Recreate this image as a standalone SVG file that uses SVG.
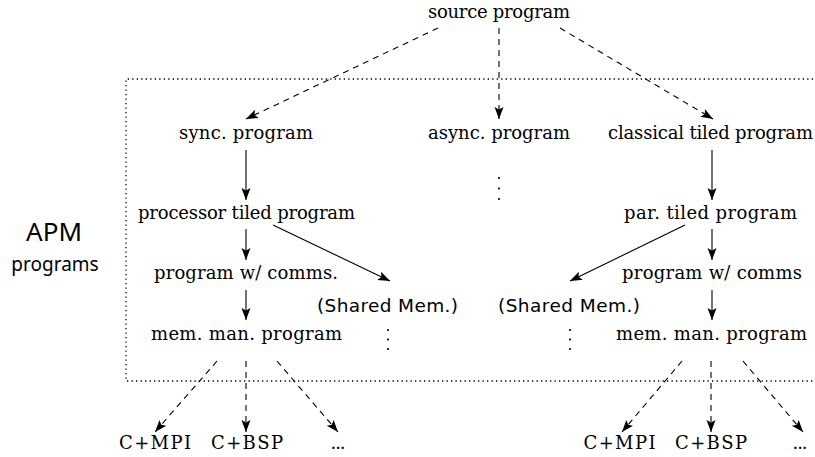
<svg xmlns="http://www.w3.org/2000/svg" width="815" height="457" viewBox="0 0 815 457">
<style>
.t{font-family:"DejaVu Serif","Liberation Serif",serif;font-size:18px;fill:#000;text-anchor:middle}
.s{font-family:"DejaVu Sans","Liberation Sans",sans-serif;font-size:18.5px;fill:#000;text-anchor:middle}
.lab{font-family:"Noto Sans","Open Sans",sans-serif;fill:#000;text-anchor:middle}
.solid{stroke:#000;stroke-width:1.1;fill:none;marker-end:url(#ah)}
.dash{stroke:#000;stroke-width:1.1;fill:none;stroke-dasharray:6 5;marker-end:url(#ah)}
.box{stroke:#000;stroke-width:1.3;fill:none;stroke-dasharray:1.3 3.2}
</style>
<defs>
<marker id="ah" markerUnits="userSpaceOnUse" markerWidth="14" markerHeight="10" refX="12" refY="4.5" orient="auto">
<path d="M0,0 L12,4.5 L0,9 L2.5,4.5 Z" fill="#000"/>
</marker>
</defs>
<g id="region">
<path class="box" d="M813,79 H126 V381 H813"/>
<text class="lab" x="54" y="241" font-size="26">APM</text>
<text class="lab" x="55" y="271" font-size="19">programs</text>
</g>
<g id="connectors">
<line class="dash" x1="438" y1="28" x2="246" y2="119"/>
<line class="dash" x1="499" y1="28" x2="499" y2="119"/>
<line class="dash" x1="560" y1="28" x2="713" y2="119"/>
<line class="solid" x1="246" y1="150" x2="246" y2="200"/>
<line class="solid" x1="246" y1="229" x2="246" y2="260"/>
<line class="solid" x1="273" y1="225" x2="390" y2="281"/>
<line class="solid" x1="246" y1="290" x2="246" y2="320"/>
<line class="solid" x1="712" y1="150" x2="712" y2="200"/>
<line class="solid" x1="712" y1="229" x2="712" y2="260"/>
<line class="solid" x1="685" y1="225" x2="570" y2="281"/>
<line class="solid" x1="712" y1="290" x2="712" y2="320"/>
<line class="dash" x1="217" y1="361" x2="155" y2="432"/>
<line class="dash" x1="246" y1="361" x2="246" y2="432"/>
<line class="dash" x1="277" y1="361" x2="338" y2="432"/>
<line class="dash" x1="682" y1="361" x2="622" y2="432"/>
<line class="dash" x1="711" y1="361" x2="711" y2="432"/>
<line class="dash" x1="743" y1="361" x2="803" y2="432"/>
</g>
<g id="source"><text class="t" x="499" y="18" textLength="142">source program</text></g>
<g id="sync"><text class="t" x="246" y="139" textLength="134">sync.  program</text></g>
<g id="async"><text class="t" x="499" y="139" textLength="142">async. program</text></g>
<g id="classical"><text class="t" x="710.5" y="139" textLength="205">classical tiled program</text></g>
<g id="async-dots"><circle cx="499" cy="178" r="1.1"/><circle cx="499" cy="188.5" r="1.1"/><circle cx="499" cy="199" r="1.1"/></g>
<g id="proc-tiled"><text class="t" x="246.5" y="219" textLength="217">processor tiled program</text></g>
<g id="par-tiled"><text class="t" x="710.5" y="219" textLength="173">par. tiled program</text></g>
<g id="comms-left"><text class="t" x="246" y="279" textLength="184">program w/ comms.</text></g>
<g id="comms-right"><text class="t" x="712" y="279" textLength="180">program w/ comms</text></g>
<g id="shared-left"><text class="s" x="387.5" y="312" textLength="141">(Shared Mem.)</text></g>
<g id="shared-right"><text class="s" x="569" y="312" textLength="142">(Shared Mem.)</text></g>
<g id="memman-left"><text class="t" x="246.5" y="340" textLength="191">mem.  man.  program</text></g>
<g id="memman-right"><text class="t" x="711.5" y="340" textLength="191">mem.  man.  program</text></g>
<g id="dots-left"><circle cx="388" cy="330" r="1.1"/><circle cx="388" cy="339.5" r="1.1"/><circle cx="388" cy="349" r="1.1"/></g>
<g id="dots-right"><circle cx="570" cy="330" r="1.1"/><circle cx="570" cy="339.5" r="1.1"/><circle cx="570" cy="349" r="1.1"/></g>
<g id="cmpi-left"><text class="t" x="155" y="449" textLength="72">C+MPI</text></g>
<g id="cbsp-left"><text class="t" x="247" y="449" textLength="72">C+BSP</text></g>
<g id="etc-left"><text class="t" x="338" y="449" textLength="15">...</text></g>
<g id="cmpi-right"><text class="t" x="619.5" y="449" textLength="72">C+MPI</text></g>
<g id="cbsp-right"><text class="t" x="711" y="449" textLength="72">C+BSP</text></g>
<g id="etc-right"><text class="t" x="800" y="449" textLength="15">...</text></g>
</svg>
